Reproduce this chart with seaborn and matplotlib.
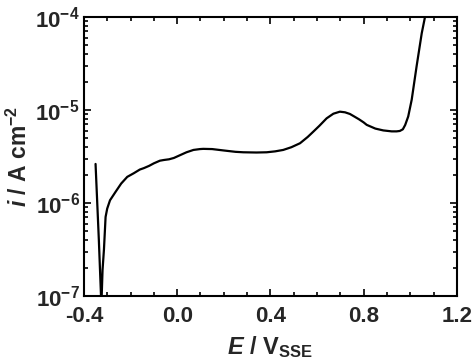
import numpy as np
import pandas as pd
import matplotlib
matplotlib.use("Agg")
import matplotlib.pyplot as plt
import matplotlib.ticker as mticker
import seaborn as sns

# Data (potential in V vs SSE, current density in A cm^-2)
E_vals = [-0.350, -0.336, -0.325, -0.320, -0.314, -0.307, -0.300, -0.288, -0.264, -0.240,
          -0.214, -0.186, -0.160, -0.143, -0.120, -0.100, -0.074, -0.057, -0.035, -0.014,
          0.022, 0.040, 0.070, 0.098, 0.112, 0.150, 0.200, 0.250, 0.284, 0.340,
          0.384, 0.420, 0.455, 0.490, 0.527, 0.560, 0.584, 0.610, 0.641, 0.670,
          0.698, 0.720, 0.741, 0.760, 0.780, 0.800, 0.813, 0.850, 0.884, 0.920, 0.941,
          0.955, 0.968, 0.978, 0.991, 1.006, 1.027, 1.049, 1.063, 1.075]
i_vals = [2.63e-6, 4.07e-7, 7.9e-8, 1.91e-7, 3.16e-7, 7.08e-7, 8.71e-7, 1.07e-6, 1.32e-6, 1.62e-6,
          1.91e-6, 2.09e-6, 2.29e-6, 2.37e-6, 2.51e-6, 2.67e-6, 2.85e-6, 2.90e-6, 2.95e-6, 3.05e-6,
          3.35e-6, 3.51e-6, 3.72e-6, 3.80e-6, 3.82e-6, 3.80e-6, 3.67e-6, 3.55e-6, 3.51e-6, 3.49e-6,
          3.51e-6, 3.59e-6, 3.72e-6, 3.98e-6, 4.39e-6, 5.13e-6, 5.85e-6, 6.76e-6, 8.13e-6, 9.12e-6,
          9.59e-6, 9.44e-6, 9.06e-6, 8.50e-6, 7.94e-6, 7.35e-6, 6.92e-6, 6.31e-6, 6.03e-6, 5.89e-6, 5.89e-6,
          5.95e-6, 6.20e-6, 6.90e-6, 8.51e-6, 1.29e-5, 2.95e-5, 6.68e-5, 1.0e-4, 1.58e-4]
x_ticks = [-0.4, 0.0, 0.4, 0.8, 1.2]
x_ticklabels = ["-0.4", "0.0", "0.4", "0.8", "1.2"]

df = pd.DataFrame({"E": E_vals, "i": i_vals})

sns.set_theme(style="ticks")
plt.rcParams["font.family"] = ["Liberation Sans", "DejaVu Sans"]
plt.rcParams["font.weight"] = "bold"
plt.rcParams["mathtext.fontset"] = "custom"
plt.rcParams["mathtext.rm"] = "Liberation Sans:bold"
plt.rcParams["mathtext.it"] = "Liberation Sans:italic:bold"
plt.rcParams["mathtext.bf"] = "Liberation Sans:bold"
plt.rcParams["mathtext.default"] = "it"

fig = plt.figure(figsize=(4.74, 3.61), dpi=100)
ax = fig.add_axes([0.177, 0.180, 0.787, 0.773])

sns.lineplot(data=df, x="E", y="i", ax=ax, color="black", linewidth=1.6, sort=False,
             estimator=None)
ax.set_yscale("log")
ax.set_xlim(-0.4, 1.2)
ax.set_ylim(1e-7, 1e-4)

ax.set_xticks(x_ticks)
ax.set_xticklabels(x_ticklabels)
ax.xaxis.set_minor_locator(mticker.MultipleLocator(0.1))
ax.yaxis.set_major_locator(mticker.LogLocator(base=10, numticks=10))
ax.yaxis.set_minor_locator(mticker.LogLocator(base=10, subs=np.arange(2, 10), numticks=20))
ax.yaxis.set_minor_formatter(mticker.NullFormatter())
ax.yaxis.set_major_formatter(mticker.FuncFormatter(
    lambda v, p: r"10$^{\mathrm{%d}}$" % int(round(np.log10(v)))))

ax.tick_params(which="both", direction="in", top=True, right=True, width=1.2, color="black")
ax.tick_params(which="major", length=5, labelsize=16)
ax.tick_params(axis="x", which="major", pad=7.5)
ax.tick_params(axis="y", which="major", pad=3)
ax.tick_params(which="minor", length=3)
for lab in ax.get_xticklabels() + ax.get_yticklabels():
    lab.set_fontweight("bold")

for s in ax.spines.values():
    s.set_linewidth(1.5)
    s.set_color("black")

ax.set_xlabel(r"$E$ / V$_{\mathrm{SSE}}$", fontsize=17, fontweight="bold", labelpad=5)
ax.set_ylabel(r"$i$ / A cm$^{\mathrm{-2}}$", fontsize=16.5, fontweight="bold", labelpad=2)

fig.savefig("out.png", dpi=100)
